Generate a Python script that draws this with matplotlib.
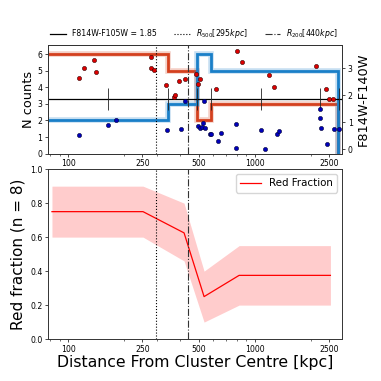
import matplotlib
matplotlib.use("Agg")
import matplotlib.pyplot as plt
from matplotlib.ticker import FixedLocator, ScalarFormatter, NullFormatter, LogLocator
import numpy as np

# bin edges [kpc] and counts of red / blue galaxies per bin
edges = [70, 342, 491, 583, 2793]
n_red = [6, 5, 2, 3]
n_blue = [2, 3, 6, 5]

# galaxies: distance [kpc], F814W-F140W colour
red_r = [115, 121, 137, 141, 277, 279, 290, 333, 368, 376, 392, 424, 485, 497, 509,
         622, 801, 855, 1188, 1274, 2128, 2418, 2500, 2636]
red_c = [2.63, 3.01, 3.31, 2.85, 3.43, 3.02, 2.95, 2.37, 1.95, 2.02, 2.52, 2.59, 2.78, 2.42, 2.61,
         2.23, 3.65, 3.22, 2.76, 2.30, 3.09, 2.22, 1.85, 1.87]
blue_r = [115, 164, 180, 340, 403, 424, 494, 507, 519, 528, 537, 541, 576, 583, 638, 662,
          794, 797, 1084, 1135, 1313, 1350, 2229, 2240, 2260, 2430, 2650, 2829]
blue_c = [0.54, 0.90, 1.085, 0.73, 0.74, 1.78, 0.86, 0.79, 0.84, 0.97, 1.79, 0.78, 0.57, 0.58, 0.31, 0.59,
          0.94, 0.06, 0.70, 0.0, 0.57, 0.67, 1.50, 1.15, 0.80, 0.21, 0.75, 0.74]

# colour cut and its error bars
cut = 1.85
err_r = [164, 342, 493, 581, 1080, 2240, 2820]
err_size = 0.4

r500 = 295
r200 = 440

# red fraction
frac_r = [82, 252, 418, 535, 824, 2540]
frac = [0.75, 0.75, 0.625, 0.25, 0.375, 0.375]
frac_lo = [0.60, 0.60, 0.46, 0.10, 0.20, 0.20]
frac_hi = [0.90, 0.90, 0.80, 0.40, 0.55, 0.55]

xticks = [100, 250, 500, 1000, 2500]
xlim = (78.1, 2935)

red_step = '#d4401e'
blue_step = '#1a7fc8'
tfs = 5.6

fig = plt.figure(figsize=(3.81, 3.81), dpi=100)
ax1 = fig.add_axes([0.126, 0.596, 0.772, 0.286])
ax3 = fig.add_axes([0.126, 0.110, 0.772, 0.446])
ax2 = ax1.twinx()

def style_x(ax):
    ax.set_xscale('log')
    ax.set_xlim(*xlim)
    ax.xaxis.set_major_locator(FixedLocator(xticks))
    ax.xaxis.set_major_formatter(ScalarFormatter())
    ax.xaxis.set_minor_locator(LogLocator(base=10, subs=np.arange(2, 10)))
    ax.xaxis.set_minor_formatter(NullFormatter())

for ax in (ax1, ax2, ax3):
    ax.tick_params(labelsize=tfs, length=2.5, width=0.5, pad=1.5)
    ax.tick_params(which='minor', length=1.5, width=0.4)
    for s in ax.spines.values():
        s.set_linewidth(0.7)
        s.set_color('#333333')

style_x(ax1)
style_x(ax3)

# counts
for vals, col in ((n_red, red_step), (n_blue, blue_step)):
    ax1.stairs(vals, edges, baseline=0, color=col, lw=4, alpha=0.25)
    ax1.stairs(vals, edges, baseline=0, color=col, lw=2)
l500 = ax1.axvline(r500, color='k', ls=':', lw=0.8, label=r'$R_{500}[295kpc]$')
l200 = ax1.axvline(r200, color='#333333', ls='-.', lw=0.8, label=r'$R_{200}[440kpc]$')
ax1.set_ylim(-0.02, 6.55)
ax1.set_yticks(range(7))
ax1.set_ylabel('N counts', fontsize=9.3, labelpad=2)

lcut = ax2.axhline(cut, color='k', lw=0.9, label='F814W-F105W = 1.85')
ax2.errorbar(err_r, [cut] * len(err_r), yerr=err_size, fmt='none', ecolor='#222222', elinewidth=0.6)
ax2.scatter(red_r, red_c, s=9, c='#dd0000', edgecolors='#330000', linewidths=0.4, zorder=3)
ax2.scatter(blue_r, blue_c, s=9, c='#0000bb', edgecolors='#000033', linewidths=0.4, zorder=3)
ax2.set_ylim(-0.17, 3.86)
ax2.set_yticks(range(4))
ax2.set_ylabel('F814W-F140W', fontsize=9.3, labelpad=3)

fig.legend(handles=[lcut, l500, l200], loc='center', bbox_to_anchor=(0.51, 0.911),
           ncol=3, frameon=False, fontsize=tfs, handlelength=2.0, columnspacing=2.2)

# red fraction
ax3.fill_between(frac_r, frac_lo, frac_hi, color='red', alpha=0.2, lw=0)
ax3.plot(frac_r, frac, color='red', lw=0.9, label='Red Fraction')
ax3.axvline(r500, color='k', ls=':', lw=0.8)
ax3.axvline(r200, color='#333333', ls='-.', lw=0.8)
ax3.set_ylim(0, 1)
ax3.set_yticks(np.arange(0, 1.01, 0.2))
ax3.set_ylabel('Red fraction (n = 8)', fontsize=11, labelpad=3)
ax3.set_xlabel('Distance From Cluster Centre [kpc]', fontsize=11.3, labelpad=1)
ax3.legend(loc='upper right', fontsize=7.4)

fig.savefig('out.png', dpi=100)
